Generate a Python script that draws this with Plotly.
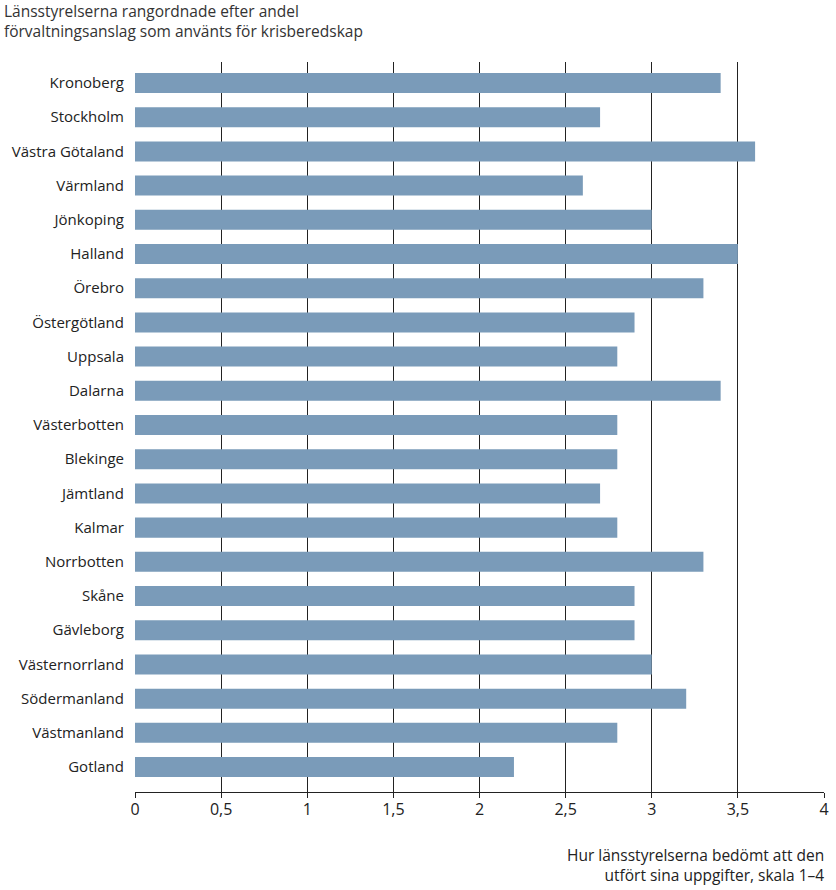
import plotly.graph_objects as go

regions = ["Kronoberg", "Stockholm", "Västra Götaland", "Värmland", "Jönkoping",
           "Halland", "Örebro", "Östergötland", "Uppsala", "Dalarna", "Västerbotten",
           "Blekinge", "Jämtland", "Kalmar", "Norrbotten", "Skåne", "Gävleborg",
           "Västernorrland", "Södermanland", "Västmanland", "Gotland"]
scores = [3.4, 2.7, 3.6, 2.6, 3.0, 3.5, 3.3, 2.9, 2.8, 3.4, 2.8,
          2.8, 2.7, 2.8, 3.3, 2.9, 2.9, 3.0, 3.2, 2.8, 2.2]
x_ticks = [0, 0.5, 1, 1.5, 2, 2.5, 3, 3.5, 4]

title_text = "Länsstyrelserna rangordnade efter andel<br>förvaltningsanslag som använts för krisberedskap"
xaxis_title = "Hur länsstyrelserna bedömt att den<br>utfört sina uppgifter, skala 1–4"

W, H = 836, 890
L, R, T, B = 135, 7, 62, 98
pw, ph = W - L - R, H - T - B

fig = go.Figure(go.Bar(
    x=scores, y=list(range(len(regions))), orientation="h",
    marker=dict(color="#7a9bb9", line=dict(width=0)),
    width=0.585,
))

font_family = "'Open Sans', Lato, sans-serif"
fig.update_layout(
    width=W, height=H,
    margin=dict(l=L, r=R, t=T, b=B, pad=0),
    plot_bgcolor="white", paper_bgcolor="white",
    separators=", ",
    showlegend=False,
    font=dict(family=font_family, size=15, color="#222"),
    xaxis=dict(
        range=[0, 4], tickvals=x_ticks,
        showgrid=True, gridcolor="#222", gridwidth=1,
        zeroline=False,
        showline=True, linecolor="#222", linewidth=1,
        ticks="outside", ticklen=5, tickcolor="#222",
        tickfont=dict(size=16, color="#222"),
        ticklabelstandoff=-2,
    ),
    yaxis=dict(
        range=[20.73, -0.614],
        tickvals=list(range(len(regions))), ticktext=regions,
        showgrid=False, zeroline=False, showline=False,
        ticks="", ticklabelstandoff=10,
        tickfont=dict(size=15, color="#222"),
    ),
    annotations=[
        dict(text=title_text, xref="paper", yref="paper",
             x=-(L - 1) / pw, y=1 + (T + 2) / ph, xanchor="left", yanchor="top",
             align="left", showarrow=False,
             font=dict(size=15.5, color="#333")),
        dict(text=xaxis_title, xref="paper", yref="paper",
             x=1 + 2 / pw, y=-(842 - (T + ph)) / ph, xanchor="right", yanchor="top",
             align="right", showarrow=False,
             font=dict(size=15.5, color="#222")),
    ],
)

fig.write_html(
    "out.html",
    config={"displayModeBar": False},
    post_script="document.body.style.margin='0';document.documentElement.style.overflow='hidden';document.body.style.overflow='hidden';",
)
